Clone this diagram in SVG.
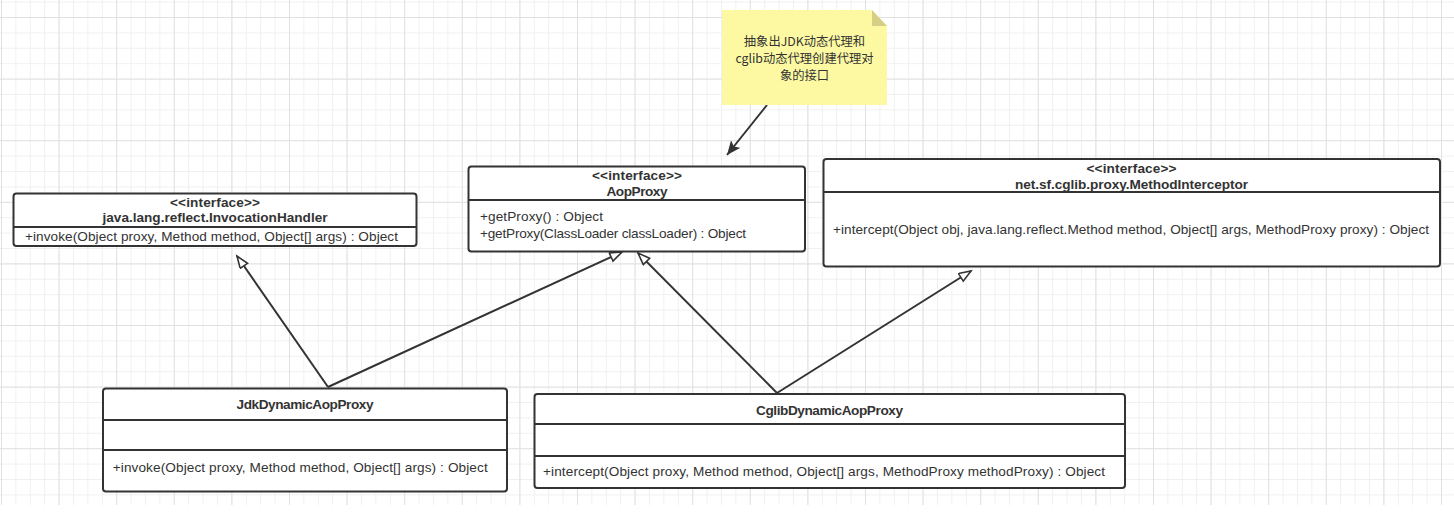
<svg xmlns="http://www.w3.org/2000/svg" width="1454" height="526" viewBox="0 0 1454 526">
  <defs>
    <pattern id="minor" x="1" y="1.6" width="14.4" height="15.4" patternUnits="userSpaceOnUse">
      <path d="M0.5,0 V15.4 M0,0.5 H14.4" fill="none" stroke="#f0f0f0" stroke-width="1"/>
    </pattern>
    <pattern id="major" x="1" y="17" width="57.6" height="61.6" patternUnits="userSpaceOnUse">
      <path d="M0.5,0 V61.6 M0,0.5 H57.6" fill="none" stroke="#e1e1e1" stroke-width="1"/>
    </pattern>
    <marker id="gen" markerUnits="userSpaceOnUse" markerWidth="16" markerHeight="12" refX="13" refY="5" orient="auto">
      <path d="M1,0.5 L13,5 L1,9.5 Z" fill="#ffffff" stroke="#333333" stroke-width="1.6"/>
    </marker>
    <marker id="arr" markerUnits="userSpaceOnUse" markerWidth="16" markerHeight="14" refX="14" refY="6" orient="auto">
      <path d="M0,0 L14,6 L0,12 L3,6 Z" fill="#333333"/>
    </marker>
  </defs>
  <style>
    .box { fill: #ffffff; stroke: #333333; stroke-width: 2; }
    .div { stroke: #333333; stroke-width: 2; }
    .t { font-family: "Liberation Sans", Arial, sans-serif; font-size: 13.6px; fill: #333333; }
    .b { font-weight: bold; text-anchor: middle; }
    .note { font-family: "Noto Sans CJK SC", "Noto Sans", sans-serif; font-size: 12.3px; fill: #333333; text-anchor: middle; }
    .edge { fill: none; stroke: #333333; stroke-width: 2; }
  </style>

  <rect x="0" y="0" width="1454" height="526" fill="#ffffff"/>
  <rect x="0" y="0" width="1454" height="505" fill="url(#minor)"/>
  <rect x="0" y="0" width="1454" height="505" fill="url(#major)"/>

  <g id="connectors">
    <line class="edge" x1="328" y1="387" x2="237" y2="256" marker-end="url(#gen)"/>
    <line class="edge" x1="328" y1="387" x2="622" y2="252" marker-end="url(#gen)"/>
    <line class="edge" x1="777" y1="393" x2="638" y2="253" marker-end="url(#gen)"/>
    <line class="edge" x1="777" y1="393" x2="971" y2="271" marker-end="url(#gen)"/>
    <line class="edge" x1="767" y1="105" x2="727" y2="155" marker-end="url(#arr)"/>
  </g>

  <g id="note">
    <path d="M722,10 H872 L887,26 V105 H722 Z" fill="#fdf9a2"/>
    <path d="M872,10 L887,26 H872 Z" fill="#d5cf85"/>
    <text class="note" x="804.5" y="46">抽象出JDK动态代理和</text>
    <text class="note" x="804.5" y="63">cglib动态代理创建代理对</text>
    <text class="note" x="804.5" y="79.5">象的接口</text>
  </g>

  <g id="InvocationHandler">
    <rect class="box" x="13.5" y="193.5" width="403" height="52.5" rx="3"/>
    <line class="div" x1="13.5" y1="227" x2="416.5" y2="227"/>
    <text class="t b" x="215" y="207" textLength="90">&lt;&lt;interface&gt;&gt;</text>
    <text class="t b" x="215" y="222" textLength="225">java.lang.reflect.InvocationHandler</text>
    <text class="t" x="25" y="241" textLength="373">+invoke(Object proxy, Method method, Object[] args) : Object</text>
  </g>

  <g id="AopProxy">
    <rect class="box" x="468.5" y="166.5" width="336.5" height="85" rx="3"/>
    <line class="div" x1="468.5" y1="200" x2="805" y2="200"/>
    <text class="t b" x="637" y="180" textLength="90">&lt;&lt;interface&gt;&gt;</text>
    <text class="t b" x="637" y="196" textLength="61">AopProxy</text>
    <text class="t" x="480" y="221" textLength="123">+getProxy() : Object</text>
    <text class="t" x="480" y="238" textLength="266">+getProxy(ClassLoader classLoader) : Object</text>
  </g>

  <g id="MethodInterceptor">
    <rect class="box" x="823.5" y="159" width="616.5" height="107.5" rx="3"/>
    <line class="div" x1="823.5" y1="192" x2="1440" y2="192"/>
    <text class="t b" x="1131.5" y="173" textLength="90">&lt;&lt;interface&gt;&gt;</text>
    <text class="t b" x="1131.5" y="189" textLength="233">net.sf.cglib.proxy.MethodInterceptor</text>
    <text class="t" x="833" y="234" textLength="596">+intercept(Object obj, java.lang.reflect.Method method, Object[] args, MethodProxy proxy) : Object</text>
  </g>

  <g id="JdkDynamicAopProxy">
    <rect class="box" x="103" y="388.5" width="404" height="103" rx="3"/>
    <line class="div" x1="103" y1="420" x2="507" y2="420"/>
    <line class="div" x1="103" y1="450" x2="507" y2="450"/>
    <text class="t b" x="305" y="409" textLength="137">JdkDynamicAopProxy</text>
    <text class="t" x="112.7" y="472" textLength="375">+invoke(Object proxy, Method method, Object[] args) : Object</text>
  </g>

  <g id="CglibDynamicAopProxy">
    <rect class="box" x="534.5" y="394" width="590.5" height="94" rx="3"/>
    <line class="div" x1="534.5" y1="424" x2="1125" y2="424"/>
    <line class="div" x1="534.5" y1="456" x2="1125" y2="456"/>
    <text class="t b" x="829.5" y="415" textLength="147">CglibDynamicAopProxy</text>
    <text class="t" x="543" y="476" textLength="562">+intercept(Object proxy, Method method, Object[] args, MethodProxy methodProxy) : Object</text>
  </g>
</svg>
